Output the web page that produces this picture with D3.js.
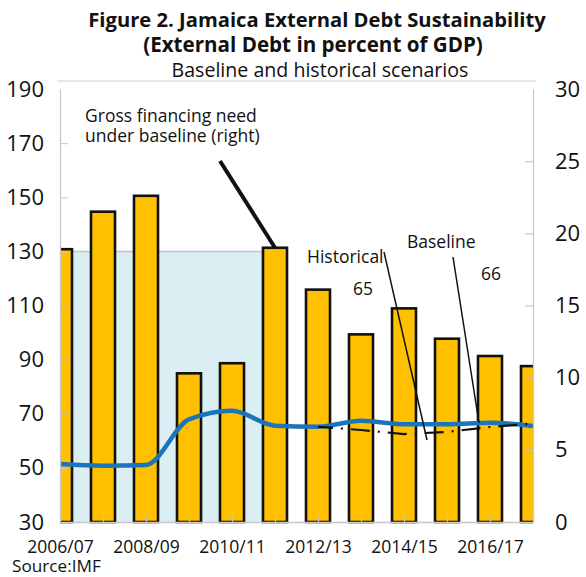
<!DOCTYPE html>
<html>
<head>
<meta charset="utf-8">
<script src="https://cdn.jsdelivr.net/npm/d3@7"></script>
<style>
  html, body { margin: 0; padding: 0; background: #fff; }
  svg { display: block; font-family: "Open Sans", "Noto Sans", sans-serif; }
</style>
</head>
<body>
<svg id="chart" width="586" height="577"></svg>
<script>
// ---- data ----
const categories = ["2006/07","2007/08","2008/09","2009/10","2010/11","2011/12",
                    "2012/13","2013/14","2014/15","2015/16","2016/17","2017/18"];
const xTickLabels = ["2006/07","2008/09","2010/11","2012/13","2014/15","2016/17"];
// Gross financing need under baseline (right axis, % of GDP)
const grossFinancingNeed = [18.9, 21.5, 22.6, 10.3, 11.0, 19.0, 16.1, 13.0, 14.8, 12.7, 11.5, 10.8];
// External debt, baseline (left axis, % of GDP)
const baselineDebt = [51.4, 50.8, 51.1, 67.9, 71.1, 65.6, 65.2, 67.4, 66.1, 66.1, 66.7, 65.5];
// External debt, historical scenario (left axis)
const historicalDebt = [null, null, null, null, null, null, 65.2, 64.0, 62.5, 63.3, 65.1, 66.4];
// Shaded historical period (left axis)
const historicalPeriod = [130, 130, 130, 130, 130, 130, null, null, null, null, null, null];
const leftTicks = [30, 50, 70, 90, 110, 130, 150, 170, 190];
const rightTicks = [0, 5, 10, 15, 20, 25, 30];

// ---- layout ----
const svg = d3.select("#chart");
const L = 60, R = 533, T = 89, B = 522;
const x = d3.scalePoint().domain(categories).range([L, R]);
const yL = d3.scaleLinear().domain([30, 190]).range([B, T]);
const yR = d3.scaleLinear().domain([0, 30]).range([B, T]);
const barW = 24;

svg.append("defs").append("clipPath").attr("id", "plotclip")
  .append("rect").attr("x", L).attr("y", T - 5).attr("width", R - L).attr("height", B - T + 10);

// Titles
svg.append("text").attr("x", 317).attr("y", 27).attr("text-anchor", "middle")
  .attr("font-weight", "bold").attr("font-size", 20.2).attr("fill", "#111")
  .text("Figure 2. Jamaica External Debt Sustainability");
svg.append("text").attr("x", 313).attr("y", 52).attr("text-anchor", "middle")
  .attr("font-weight", "bold").attr("font-size", 20.6).attr("fill", "#111")
  .text("(External Debt in percent of GDP)");
svg.append("text").attr("x", 320).attr("y", 77).attr("text-anchor", "middle")
  .attr("font-size", 19.6).attr("fill", "#111")
  .text("Baseline and historical scenarios");

// top frame line
svg.append("line").attr("x1", 57).attr("x2", 536).attr("y1", 81).attr("y2", 81)
  .attr("stroke", "#cfcfcf").attr("stroke-width", 1.2);

const plot = svg.append("g").attr("clip-path", "url(#plotclip)");

// shaded historical area
const shadeData = categories.map((c, i) => ({c, v: historicalPeriod[i]})).filter(d => d.v != null);
plot.append("path").datum(shadeData)
  .attr("d", d3.area().x(d => x(d.c)).y0(B).y1(d => yL(d.v)))
  .attr("fill", "#daeef3");
plot.append("path").datum(shadeData)
  .attr("d", d3.line().x(d => x(d.c)).y(d => yL(d.v)))
  .attr("fill", "none").attr("stroke", "#bfc4c6").attr("stroke-width", 1.5);

// bars
plot.selectAll("rect.bar").data(categories).enter().append("rect")
  .attr("class", "bar")
  .attr("x", d => x(d) - barW / 2)
  .attr("width", barW)
  .attr("y", (d, i) => yR(grossFinancingNeed[i]))
  .attr("height", (d, i) => B - yR(grossFinancingNeed[i]))
  .attr("fill", "#ffc000").attr("stroke", "#111").attr("stroke-width", 2.6);

// baseline line
const baseData = categories.map((c, i) => ({c, v: baselineDebt[i]}));
plot.append("path").datum(baseData)
  .attr("d", d3.line().x(d => x(d.c)).y(d => yL(d.v)).curve(d3.curveMonotoneX))
  .attr("fill", "none").attr("stroke", "#1b75bc").attr("stroke-width", 4.5)
  .attr("stroke-linejoin", "round");

// historical dash-dot line
const histData = categories.map((c, i) => ({c, v: historicalDebt[i]})).filter(d => d.v != null);
plot.append("path").datum(histData)
  .attr("d", d3.line().x(d => x(d.c)).y(d => yL(d.v)))
  .attr("fill", "none").attr("stroke", "#111").attr("stroke-width", 2.2)
  .attr("stroke-dasharray", "19,8,2,8").attr("stroke-dashoffset", 4);

// axes
const axisColor = "#c8c8c8";
const gL = svg.append("g").attr("transform", `translate(${L},0)`)
  .call(d3.axisLeft(yL).tickValues(leftTicks).tickSizeInner(-8).tickSizeOuter(0).tickPadding(16));
const gR = svg.append("g").attr("transform", `translate(${R},0)`)
  .call(d3.axisRight(yR).tickValues(rightTicks).tickSizeInner(-8).tickSizeOuter(0).tickPadding(22));
const gB = svg.append("g").attr("transform", `translate(0,${B})`)
  .call(d3.axisBottom(x).tickSizeInner(-6).tickSizeOuter(0).tickPadding(19)
        .tickFormat(d => xTickLabels.includes(d) ? d : ""));
[gL, gR, gB].forEach(g => {
  g.select(".domain").attr("stroke", axisColor).attr("stroke-width", 1.3);
  g.selectAll(".tick line").attr("stroke", axisColor).attr("stroke-width", 1.2).attr("opacity", 0.9);
  g.selectAll(".tick text").attr("fill", "#111").attr("font-family", "\"Open Sans\", sans-serif");
});
gL.selectAll(".tick text").attr("font-size", 22);
gR.selectAll(".tick text").attr("font-size", 22);
gB.selectAll(".tick text").attr("font-size", 17.5);
gL.selectAll(".tick").filter(d => d === 30 || d === 190).select("line").remove();
gR.selectAll(".tick").filter(d => d === 0 || d === 30).select("line").remove();

// annotations
const ann = svg.append("g").attr("font-size", 17.5).attr("fill", "#111");
const gfnLabel = ann.append("text").attr("x", 85).attr("y", 122);
gfnLabel.append("tspan").attr("x", 85).attr("y", 122).text("Gross financing need");
gfnLabel.append("tspan").attr("x", 85).attr("y", 142).text("under baseline (right)");
ann.append("line").attr("x1", 220).attr("y1", 161)
  .attr("x2", x(categories[5])).attr("y2", yR(grossFinancingNeed[5]))
  .attr("stroke", "#111").attr("stroke-width", 4);

ann.append("text").attr("x", 307).attr("y", 263).text("Historical");
ann.append("line").attr("x1", 384).attr("y1", 252).attr("x2", 427).attr("y2", 440)
  .attr("stroke", "#111").attr("stroke-width", 1.5);
ann.append("text").attr("x", 353).attr("y", 295).text("65");

ann.append("text").attr("x", 407).attr("y", 248).text("Baseline");
ann.append("line").attr("x1", 453).attr("y1", 257).attr("x2", 479).attr("y2", 423)
  .attr("stroke", "#111").attr("stroke-width", 1.5);
ann.append("text").attr("x", 481).attr("y", 280).text("66");

svg.append("text").attr("x", 12).attr("y", 572).attr("font-size", 17.2).attr("fill", "#111")
  .text("Source:IMF");
</script>
</body>
</html>
